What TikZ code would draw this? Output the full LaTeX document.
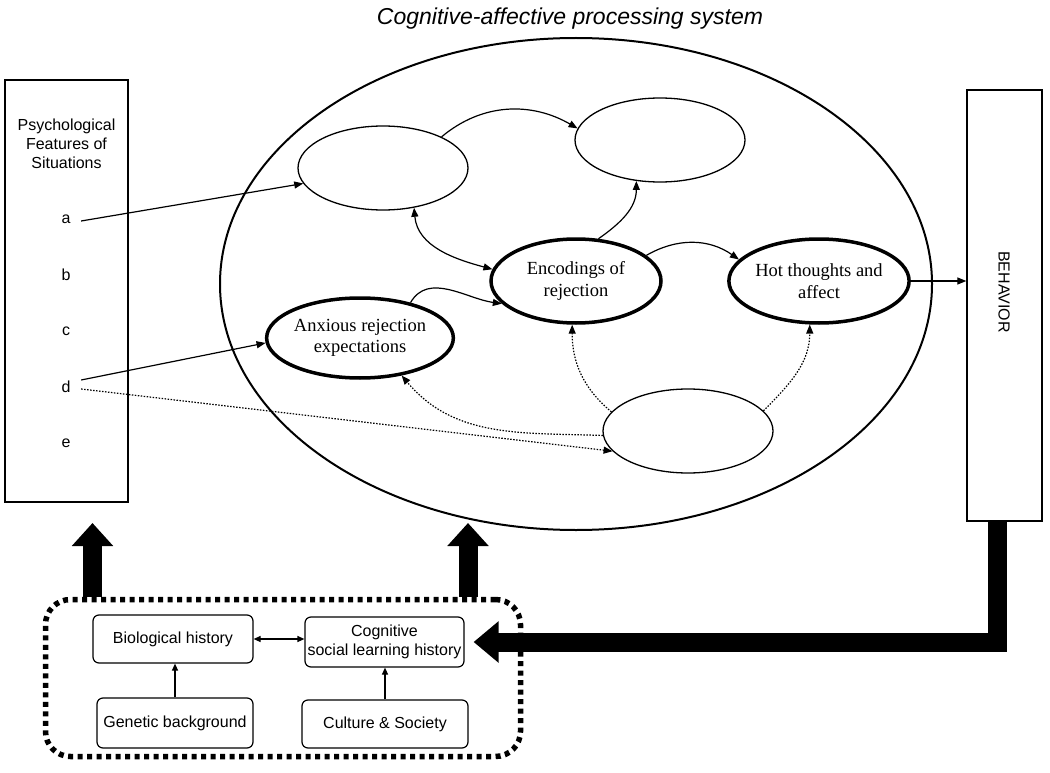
\documentclass[tikz,border=0pt]{standalone}
\usepackage{fontspec}
\setmainfont{Liberation Serif}
\setsansfont{Liberation Sans}
\usetikzlibrary{shapes.geometric,arrows.meta,calc}
\begin{document}
\begin{tikzpicture}[x=1pt,y=1pt,
  every node/.style={inner sep=0pt},
  sf/.style={font=\sffamily\fontsize{16}{19}\selectfont},
  rm/.style={font=\fontsize{18.5}{21.5}\selectfont, align=center},
  thinell/.style={draw, ellipse, line width=1.3pt, minimum width=170pt, minimum height=84pt},
  thickell/.style={thinell, line width=3.5pt},
  conn/.style={line width=1.2pt, -{Triangle[length=9pt,width=7pt]}},
  biconn/.style={line width=1.2pt, {Triangle[length=9pt,width=7pt]}-{Triangle[length=9pt,width=7pt]}},
  dconn/.style={conn, dash pattern=on 1.5pt off 1.5pt},
  fat/.style={line width=19pt, -{Triangle[length=23pt,width=40pt]}},
  hbox/.style={draw, rounded corners=6pt, line width=1.2pt, sf, align=center}
]
\useasboundingbox (0,0) rectangle (1050,-773);

% title
\node[font=\sffamily\itshape\fontsize{23}{27}\selectfont] (title) at (570,-19) {Cognitive-affective processing system};

% left box
\node[draw, line width=1.3pt, minimum width=123pt, minimum height=422pt] (lbox) at (66.5,-291) {};
\node[sf, align=center] (lbl) at (66.5,-144) {Psychological\\Features of\\Situations};
\node[sf] (fa) at (66,-219) {a};
\node[sf] (fb) at (66,-275) {b};
\node[sf] (fc) at (66,-331) {c};
\node[sf] (fd) at (66,-387) {d};
\node[sf] (fe) at (66,-443) {e};

% behavior box
\node[draw, line width=1.3pt, minimum width=75pt, minimum height=431pt] (beh) at (1004.5,-305.5) {};
\node[sf, rotate=-90] (behl) at (1004,-292) {BEHAVIOR};

% big ellipse
\node[draw, ellipse, line width=2pt, minimum width=712pt, minimum height=492pt] (cap) at (576,-284) {};

% inner ellipses
\node[thinell] (E1) at (383,-168) {};
\node[thinell] (E2) at (660,-140) {};
\node[thickell, rm] (enc) at (576,-281) {Encodings of\\rejection};
\node[thickell, rm] (hot) at (819,-281) {Hot thoughts and\\affect};
\node[thickell, rm, minimum height=80pt] (anx) at (360,-338) {Anxious rejection\\expectations};
\node[thinell] (bE) at (688,-431) {};

% connectors from features
\draw[conn] ([shift={(10.5,-2)}]fa.east) -- (E1.191);
\draw[conn] ([shift={(10.5,7)}]fd.east) -- (anx.183);
\draw[dconn] ([shift={(10.5,-2)}]fd.east) -- (bE.195);

% connectors inside
\draw[conn] (E1.28) to[out=40,in=150] (E2.172);
\draw[conn] (enc.62) to[out=35,in=-90] (E2.240);
\draw[biconn] (E1.-52) to[out=-85,in=165] (enc.172);
\draw[conn] (enc.20) to[out=30,in=145] (hot.165);
\draw[conn] (anx.35) to[out=60,in=172] (enc.197);
\draw[dconn] (bE.183) to[out=178,in=-50] (anx.-42);
\draw[dconn] (bE.166) to[out=140,in=-90] (enc.265);
\draw[dconn] (bE.15) to[out=45,in=-90] (hot.258);
\draw[conn] (hot.east) -- (hot.east -| beh.west);

% bottom section
\node[draw, rounded corners=25pt, line width=5.5pt, dash pattern=on 5pt off 4.5pt, minimum width=475pt, minimum height=157pt] (dbox) at (283,-678) {};
\node[hbox, minimum width=160pt, minimum height=48pt] (bio) at (173,-639) {Biological history};
\node[hbox, minimum width=159pt, minimum height=50pt] (cog) at (384.5,-642) {Cognitive\\social learning history};
\node[hbox, minimum width=156pt, minimum height=50pt] (gen) at (175,-723) {Genetic background};
\node[hbox, minimum width=166pt, minimum height=48pt] (cul) at (385,-724) {Culture \& Society};

\draw[line width=1.2pt, {Triangle[length=7pt,width=6pt]}-{Triangle[length=7pt,width=6pt]}] (bio.east) -- (cog.west |- bio.east);
\draw[line width=1.2pt, -{Triangle[length=7pt,width=6pt]}] (gen.north) -- (gen.north |- bio.south);
\draw[line width=1.2pt, -{Triangle[length=7pt,width=6pt]}] (cul.north) -- (cul.north |- cog.south);

% fat arrows
\coordinate (la) at (92.5,-523);
\coordinate (ra) at (468,-523);
\draw[fat] (la |- dbox.north) -- (la);
\draw[fat] (ra |- dbox.north) -- (ra);
\draw[fat, -{Triangle[length=25pt,width=40pt]}] ([xshift=-7pt]beh.south) |- ([xshift=9pt]cog.east);
\end{tikzpicture}
\end{document}
